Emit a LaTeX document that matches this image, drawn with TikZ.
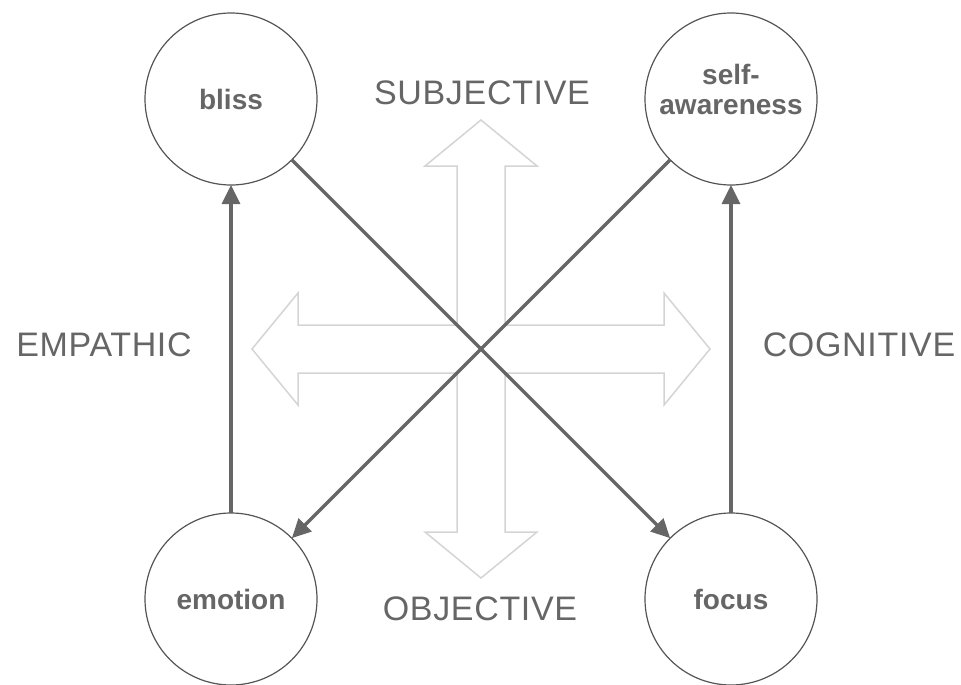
\documentclass[tikz,border=0pt]{standalone}
\usepackage{fontspec}
\setmainfont{Liberation Sans}
\newfontfamily\axisfont[LetterSpace=2]{Liberation Sans}
\usetikzlibrary{arrows.meta}
\definecolor{ink}{HTML}{666666}
\definecolor{rim}{HTML}{555555}
\definecolor{pale}{HTML}{D4D4D4}
\begin{document}
\begin{tikzpicture}[x=1pt,y=-1pt,
  state/.style={circle,draw=rim,line width=1.2pt,minimum size=172pt,inner sep=0pt,
    outer sep=0pt,text=ink,font=\fontsize{28}{30}\selectfont\bfseries,align=center},
  statetext/.style={text=ink,font=\fontsize{28}{30}\selectfont\bfseries,align=center,inner sep=0pt},
  link/.style={draw=ink,line width=3.4pt,-{Triangle[length=19pt,width=18pt]}},
  axislabel/.style={text=ink,font=\axisfont\fontsize{34}{38}\selectfont,inner sep=0pt}]
\useasboundingbox (0,0) rectangle (961,685);

% four-way hollow arrow in the middle
\def\tipd{229}\def\based{183}\def\shaft{24}\def\headw{56}
\begin{scope}[shift={(481,349)}]
  \draw[pale,line width=1.5pt,line join=miter]
    (0,-\tipd) -- (\headw,-\based) -- (\shaft,-\based) -- (\shaft,-\shaft)
    -- (\based,-\shaft) -- (\based,-\headw) -- (\tipd,0) -- (\based,\headw) -- (\based,\shaft)
    -- (\shaft,\shaft) -- (\shaft,\based) -- (\headw,\based) -- (0,\tipd)
    -- (-\headw,\based) -- (-\shaft,\based) -- (-\shaft,\shaft) -- (-\based,\shaft)
    -- (-\based,\headw) -- (-\tipd,0) -- (-\based,-\headw) -- (-\based,-\shaft)
    -- (-\shaft,-\shaft) -- (-\shaft,-\based) -- (-\headw,-\based) -- cycle;
\end{scope}

% states
\node[state] (bliss) at (231,99) {bliss};
\node[state] (self) at (731,99) {};
\node[statetext] (selftext) at (731,89) {self-\\awareness};
\node[state] (emotion) at (231,599) {emotion};
\node[state] (focus) at (731,599) {focus};

% transitions
\draw[link] (emotion) -- (bliss);
\draw[link] (focus) -- (self);
\draw[link] (bliss) -- (focus);
\draw[link] (self) -- (emotion);

% axis labels
\node[axislabel] (subj) at (482,92.5) {SUBJECTIVE};
\node[axislabel] (obj) at (480,609) {OBJECTIVE};
\node[axislabel] (emp) at (104,345) {EMPATHIC};
\node[axislabel] (cog) at (859,345) {COGNITIVE};
\end{tikzpicture}
\end{document}
